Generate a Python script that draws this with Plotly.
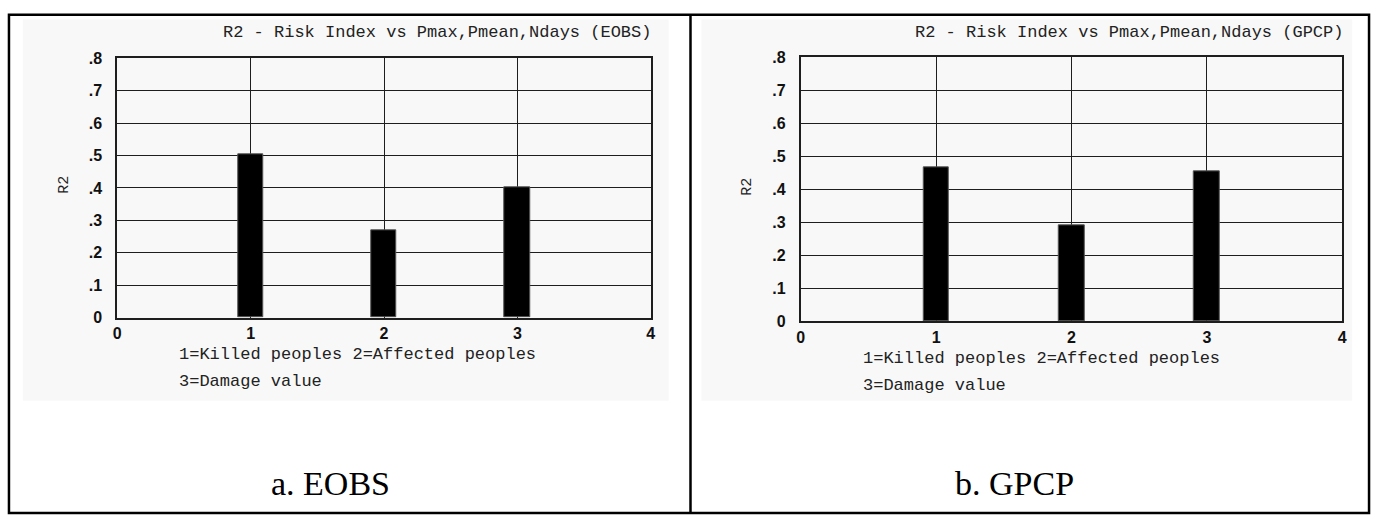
import plotly.graph_objects as go

W, H = 1381, 524

# Data
categories = [1, 2, 3]
r2_eobs = [0.505, 0.27, 0.403]
r2_gpcp = [0.467, 0.29, 0.456]

x_tick_vals = [0, 1, 2, 3, 4]
x_tick_text = ["0", "1", "2", "3", "4"]
y_tick_vals = [0, 0.1, 0.2, 0.3, 0.4, 0.5, 0.6, 0.7, 0.8]
y_tick_text = ["0", ".1", ".2", ".3", ".4", ".5", ".6", ".7", ".8"]

panel_titles = ["R2 - Risk Index vs Pmax,Pmean,Ndays (EOBS)",
                "R2 - Risk Index vs Pmax,Pmean,Ndays (GPCP)"]
key_lines = ["1=Killed peoples 2=Affected peoples", "3=Damage value"]
captions = ["a. EOBS", "b. GPCP"]
y_title = "R2"


def fx(px):
    return px / W


def fy(py):
    return 1 - py / H


MONO = "Liberation Mono"
TICK_FONT = dict(family="Liberation Sans", size=16, color="#111111", weight="bold")
GRID = "#1e1e1e"

fig = go.Figure()

# panel geometry in pixels: (left, right, top, bottom)
panels = [
    dict(x0=114, x1=651, y0=52, y1=320, bg=(19, 669), title_x=653,
         key_x=174, key_y=(358, 386), ytitle_x=60, cap_x=329),
    dict(x0=802, x1=1347, y0=51, y1=324, bg=(702, 1357), title_x=1350,
         key_x=863, key_y=(362, 390), ytitle_x=748, cap_x=1017),
]
series = [r2_eobs, r2_gpcp]

shapes = []
annotations = []

for i, (p, vals) in enumerate(zip(panels, series)):
    n = "" if i == 0 else str(i + 1)
    fig.add_trace(go.Bar(
        x=categories, y=vals, width=0.19,
        marker=dict(color="#000000", line=dict(color="#555555", width=1)),
        xaxis="x" + n, yaxis="y" + n, showlegend=False,
        hovertemplate="%{x}: %{y:.3f}<extra></extra>",
    ))
    axis_common = dict(showline=True, linecolor=GRID, linewidth=2, mirror=True,
                       showgrid=True, gridcolor=GRID, gridwidth=1.4,
                       zeroline=False, ticks="", tickfont=TICK_FONT)
    fig.layout["xaxis" + n] = dict(
        axis_common, domain=[fx(p["x0"]), fx(p["x1"])], range=[0, 4],
        tickvals=x_tick_vals, ticktext=x_tick_text, anchor="y" + n,
        ticklabelstandoff=0)
    fig.layout["yaxis" + n] = dict(
        axis_common, domain=[fy(p["y1"]), fy(p["y0"])], range=[0, 0.8],
        tickvals=y_tick_vals, ticktext=y_tick_text, anchor="x" + n,
        ticklabelstandoff=10)

    # light grey image background behind each chart
    shapes.append(dict(type="rect", xref="paper", yref="paper", layer="below",
                       x0=fx(p["bg"][0]), x1=fx(p["bg"][1]), y0=fy(406), y1=fy(12),
                       fillcolor="#f8f8f8", line=dict(width=0)))

    annotations.append(dict(text=panel_titles[i], xref="paper", yref="paper",
                            x=fx(p["title_x"]), y=fy(25), xanchor="right", yanchor="middle",
                            showarrow=False, font=dict(family=MONO, size=17, color="#222222")))
    for line, ly in zip(key_lines, p["key_y"]):
        annotations.append(dict(text=line, xref="paper", yref="paper",
                                x=fx(p["key_x"]), y=fy(ly), xanchor="left", yanchor="middle",
                                showarrow=False, font=dict(family=MONO, size=17, color="#222222")))
    annotations.append(dict(text=y_title, xref="paper", yref="paper", textangle=-90,
                            x=fx(p["ytitle_x"]), y=fy((p["y0"] + p["y1"]) / 2 - 3),
                            xanchor="center", yanchor="middle", showarrow=False,
                            font=dict(family=MONO, size=15, color="#222222")))
    annotations.append(dict(text=captions[i], xref="paper", yref="paper",
                            x=fx(p["cap_x"]), y=fy(491), xanchor="center", yanchor="middle",
                            showarrow=False,
                            font=dict(family="Liberation Serif", size=34, color="#000000")))

# table frame around the two charts
shapes.append(dict(type="rect", xref="paper", yref="paper",
                   x0=fx(5), x1=fx(1374), y0=fy(522), y1=fy(7),
                   line=dict(color="#000000", width=2.5)))
shapes.append(dict(type="line", xref="paper", yref="paper",
                   x0=fx(691), x1=fx(691), y0=fy(522), y1=fy(7),
                   line=dict(color="#000000", width=2.5)))

fig.update_layout(
    width=W, height=H,
    margin=dict(l=0, r=0, t=0, b=0),
    paper_bgcolor="#ffffff", plot_bgcolor="#ffffff",
    shapes=shapes, annotations=annotations,
    showlegend=False, bargap=0,
)

fig.write_html("out.html", config={"displayModeBar": False})
